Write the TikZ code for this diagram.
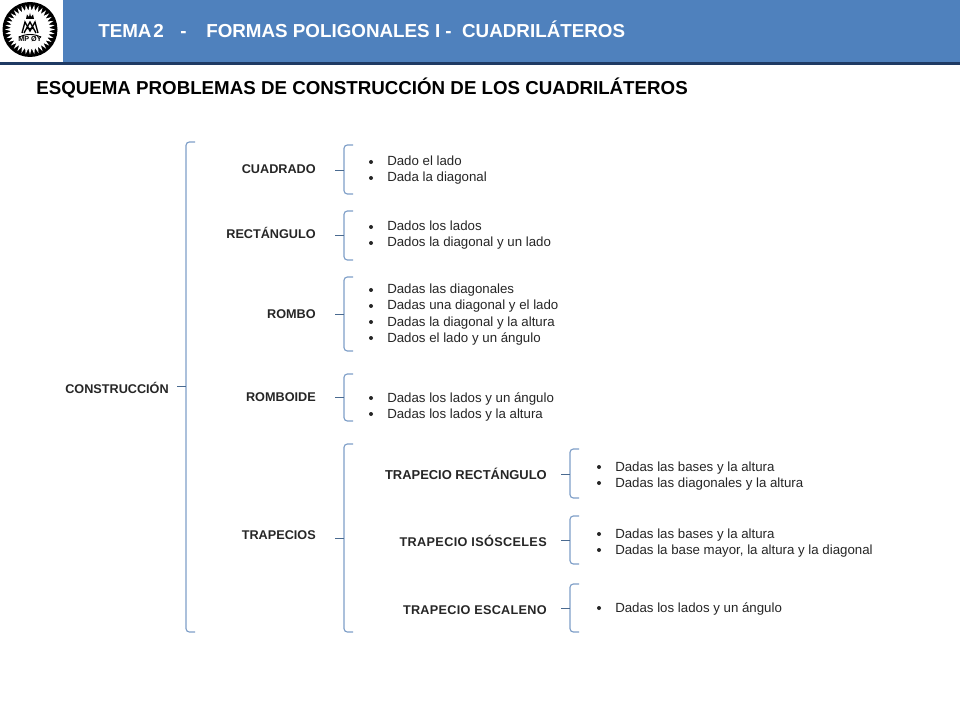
\documentclass[tikz,border=0pt]{standalone}
\usepackage{fontspec}
\usetikzlibrary{calc}
\setmainfont{Liberation Sans}
\definecolor{barblue}{HTML}{4F81BD}
\definecolor{bardark}{HTML}{1F3A63}
\definecolor{brace}{HTML}{7F9FC8}
\definecolor{tick}{HTML}{4A6A90}
\tikzset{
  x=0.75pt,y=-0.75pt,
  headtxt/.style={anchor=base west,inner sep=0,text=white,font=\bfseries\fontsize{14.1pt}{16pt}\selectfont},
  titletxt/.style={anchor=base west,inner sep=0,text=black,font=\bfseries\fontsize{14.05pt}{16pt}\selectfont},
  lab/.style={anchor=base east,inner sep=0,text=black!85,font=\bfseries\fontsize{9.5pt}{11pt}\selectfont},
  item/.style={anchor=base west,inner sep=0,text=black!85,font=\fontsize{9.95pt}{11pt}\selectfont},
  dotmark/.style={circle,fill=black!85,inner sep=0,minimum size=3pt},
  bracket/.style={draw=brace,line width=0.85pt,rounded corners=2.5pt},
  ticked/.style={draw=tick,line width=0.7pt}
}
\newcommand{\brk}[5]{% name, x, top, mid, bottom
  \coordinate (#1t) at (#2+9,#3);
  \coordinate (#1m) at (#2-9,#4);
  \coordinate (#1b) at (#2+9,#5);
  \draw[bracket] (#1t) -- (#2,#3) -- (#2,#5) -- (#1b);
  \draw[ticked] (#1m) -- (#2,#4);
}
\newcommand{\bul}[4]{% name, x, baseline y, text
  \node[dotmark] (#1d) at (#2,#3-4) {};
  \node[item] (#1) at (#2+16,#3) {#4};
}
\begin{document}
\begin{tikzpicture}
\useasboundingbox (0,0) rectangle (960,720);
\fill[white] (0,0) rectangle (960,720);
\fill[barblue] (63,0) rectangle (960,62);
\fill[bardark] (0,62) rectangle (960,65);
% logo
\fill[black] (30,29.5) circle (27.5);
\foreach \a in {0,10,...,350}{
  \fill[white] ($(30,29.5)+(\a-5:19)$) -- ($(30,29.5)+(\a:25)$) -- ($(30,29.5)+(\a+5:19)$) -- cycle;
}
\fill[white] (30,29.5) circle (19.5);
\draw[black,line width=1pt] (22,33) -- (25,22) -- (30,31) -- (35,22) -- (38,33);
\draw[black,line width=1pt] (24,33) -- (30,22) -- (36,33) (26.5,28.5) -- (33.5,28.5);
\fill[black] (26,19) -- (27,14.5) -- (29,17) -- (30,13) -- (31,17) -- (33,14.5) -- (34,19) -- cycle;
\draw[black,line width=0.7pt] (19,37.5) .. controls (24,33.5) and (36,33.5) .. (41,37.5);
\node[inner sep=0,font=\bfseries\fontsize{5.4pt}{6pt}\selectfont] (logotxt) at (30,39.5) {MP ØY};
% header
\node[headtxt] (tema) at (98,38) {TEMA\hspace{-2.6pt} 2};
\node[headtxt] (guion) at (180,38) {-};
\node[headtxt] (formas) at (206,38) {FORMAS POLIGONALES I -\ \ CUADRILÁTEROS};
\node[titletxt] (esquema) at (36,95) {ESQUEMA PROBLEMAS DE CONSTRUCCIÓN DE LOS CUADRILÁTEROS};
% main labels
\node[lab] (construccion) at (169,393) {CONSTRUCCIÓN};
\node[lab] (cuadrado) at (316,174) {CUADRADO};
\node[lab] (rectangulo) at (316,239) {RECTÁNGULO};
\node[lab] (rombo) at (316,318) {ROMBO};
\node[lab] (romboide) at (316,401) {ROMBOIDE};
\node[lab] (trapecios) at (316,539) {TRAPECIOS};
\node[lab] (trect) at (547,479) {\fontsize{9.7pt}{11pt}\selectfont TRAPECIO RECTÁNGULO};
\node[lab] (tiso) at (547,546) {\addfontfeature{LetterSpace=2.8}TRAPECIO ISÓSCELES};
\node[lab] (tesc) at (547,614) {\addfontfeature{LetterSpace=2.3}TRAPECIO ESCALENO};
% brackets
\brk{b0}{186}{142}{386}{632}
\brk{b1}{344}{145}{170}{194}
\brk{b2}{344}{211}{235}{260}
\brk{b3}{344}{277}{314}{351}
\brk{b4}{344}{374}{397}{421}
\brk{b5}{344}{444}{538}{632}
\brk{b6}{570}{449}{474}{498}
\brk{b7}{570}{516}{540}{564}
\brk{b8}{570}{584}{608}{632}
% lists
\bul{a1}{371}{166}{Dado el lado}
\bul{a2}{371}{182}{Dada la diagonal}
\bul{c1}{371}{231}{Dados los lados}
\bul{c2}{371}{247}{Dados la diagonal y un lado}
\bul{d1}{371}{294}{Dadas las diagonales}
\bul{d2}{371}{310}{Dadas una diagonal y el lado}
\bul{d3}{371}{326}{Dadas la diagonal y la altura}
\bul{d4}{371}{342}{Dados el lado y un ángulo}
\bul{e1}{371}{402}{Dadas los lados y un ángulo}
\bul{e2}{371}{418}{Dadas los lados y la altura}
\bul{f1}{599}{471}{Dadas las bases y la altura}
\bul{f2}{599}{487}{Dadas las diagonales y la altura}
\bul{g1}{599}{538}{Dadas las bases y la altura}
\bul{g2}{599}{554}{Dadas la base mayor, la altura y la diagonal}
\bul{h1}{599}{612}{Dadas los lados y un ángulo}
\end{tikzpicture}
\end{document}
